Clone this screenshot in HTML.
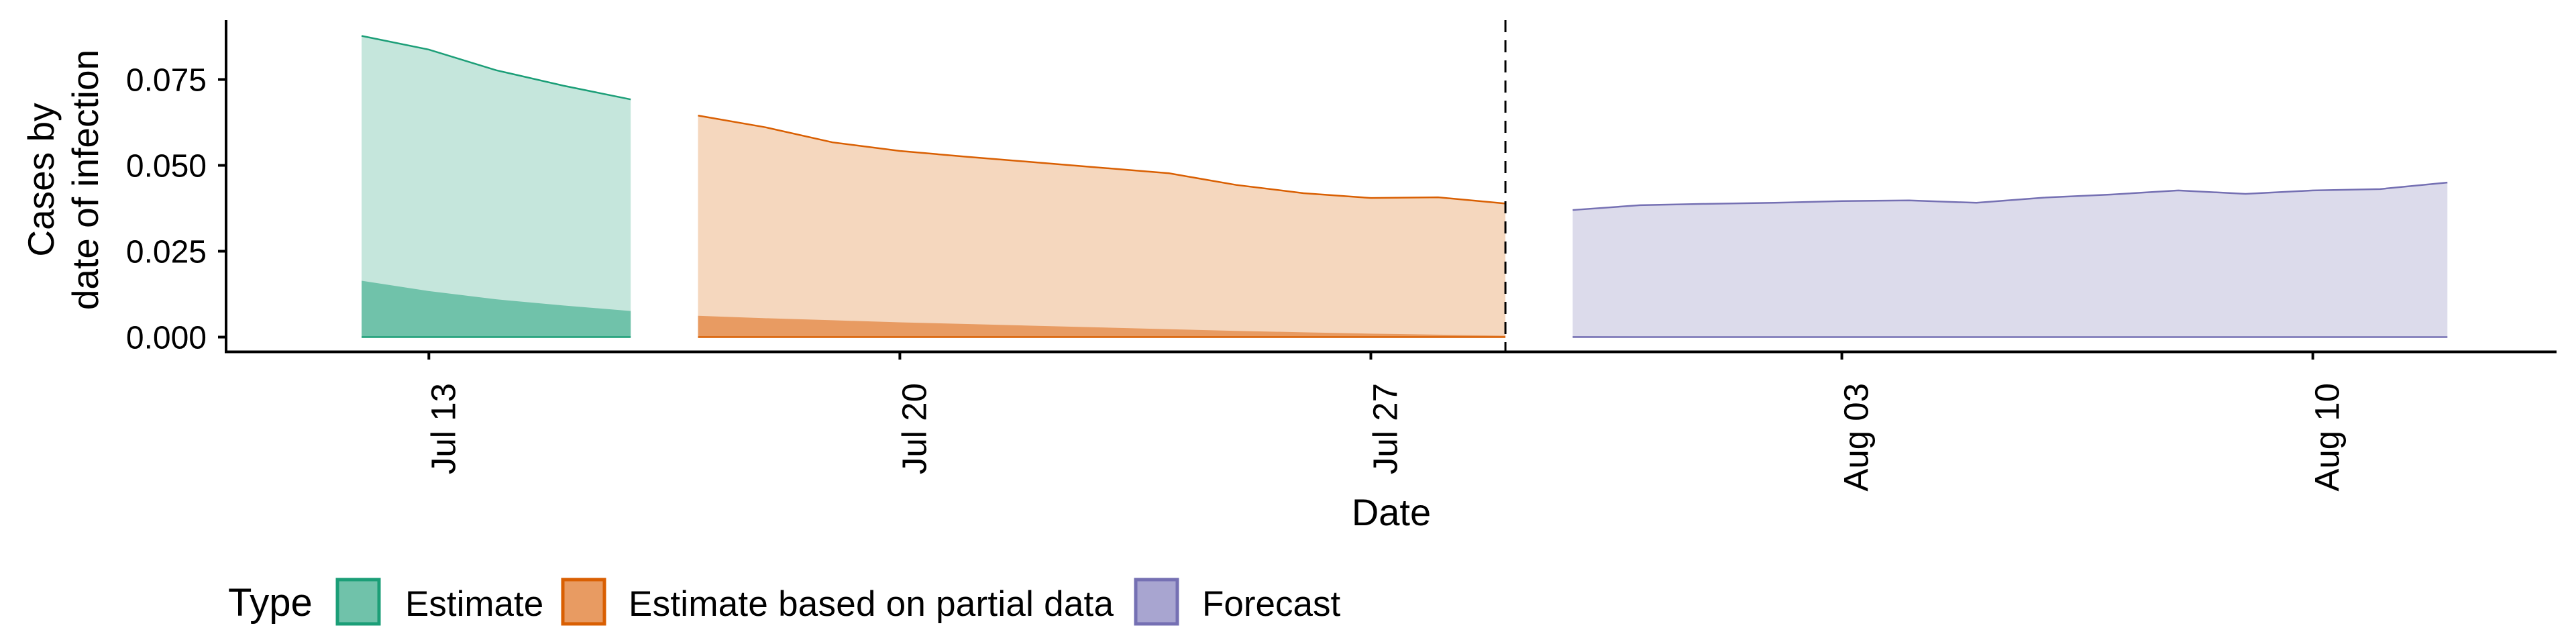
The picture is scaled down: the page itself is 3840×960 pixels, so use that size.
<!DOCTYPE html>
<html><head><meta charset="utf-8"><style>
html,body{margin:0;padding:0;background:#fff;}
svg{display:block;font-family:"Liberation Sans",Arial,sans-serif;}
</style></head><body>
<svg id="chart" width="3840" height="960" viewBox="0 0 3840 960" xmlns="http://www.w3.org/2000/svg">
<g id="plot"></g>
<g id="axes"></g>
<g id="legend"></g>
</svg>
<script>
// Data (day index 0 = Jul 12)
const estDays = [0,1,2,3,4];
const estUpper = [0.0877,0.0837,0.0777,0.0732,0.0692];
const estLower = [0.0164,0.0134,0.0110,0.0092,0.0076];
const partDays = [5,6,7,8,9,10,11,12,13,14,15,16,17];
const partUpper = [0.0645,0.0611,0.0567,0.0542,0.0525,0.0509,0.0493,0.0477,0.0443,0.0419,0.0405,0.0407,0.0389];
const partLower = [0.0062,0.0055,0.0049,0.0043,0.0038,0.0033,0.0028,0.0023,0.0018,0.0014,0.0010,0.0007,0.0004];
const foreDays = [18,19,20,21,22,23,24,25,26,27,28,29,30,31];
const foreUpper = [0.0370,0.0384,0.0388,0.0391,0.0396,0.0398,0.0391,0.0406,0.0415,0.0427,0.0417,0.0427,0.0431,0.0450];
const foreLower = [0.0003,0.0002,0.0002,0.0002,0.0001,0.0001,0.0001,0.0001,0.0001,0.0001,0.0001,0.0001,0.0001,0.0001];
const yTicks = [0,0.025,0.05,0.075];
const yTickLabels = ["0.000","0.025","0.050","0.075"];
const xTicks = [1,8,15,22,29];
const xTickLabels = ["Jul 13","Jul 20","Jul 27","Aug 03","Aug 10"];
const nowDay = 17;

const NS = "http://www.w3.org/2000/svg";
const X = d => 539 + d * 100.3;
const Y = v => 502.5 - v * 5120;
function mk(tag, attrs, parent){const e=document.createElementNS(NS,tag);for(const k in attrs)e.setAttribute(k,attrs[k]);parent.appendChild(e);return e;}
const plot = document.getElementById('plot');
const axes = document.getElementById('axes');
const legend = document.getElementById('legend');

function band(days, vals, fill, name){
  let d = "M"+X(days[0])+","+Y(0);
  days.forEach((dd,i)=>{d+=" L"+X(dd)+","+Y(vals[i]);});
  d += " L"+X(days[days.length-1])+","+Y(0)+" Z";
  const p = mk('path',{d:d,fill:fill},plot);
  
  
}
function line(days, vals, stroke, name){
  const pts = days.map((dd,i)=>X(dd)+","+Y(vals[i])).join(" ");
  const p = mk('polyline',{points:pts,fill:"none",stroke:stroke,"stroke-width":2.5},plot);
  
  
}
band(estDays, estUpper, "#c5e6dc", "estimate-outer-band");
band(estDays, estLower, "#70c2aa", "estimate-inner-band");
line(estDays, estUpper, "#1b9e77", "estimate-upper-line");
line(estDays, estDays.map(()=>0), "#1b9e77", "estimate-baseline");
band(partDays, partUpper, "#f5d7be", "partial-outer-band");
band(partDays, partLower, "#e89b62", "partial-inner-band");
line(partDays, partUpper, "#d95f02", "partial-upper-line");
line(partDays, partDays.map(()=>0), "#d95f02", "partial-baseline");
band(foreDays, foreUpper, "#dcdbeb", "forecast-outer-band");
band(foreDays, foreLower, "#a8a5d0", "forecast-inner-band");
line(foreDays, foreUpper, "#7570b3", "forecast-upper-line");
line(foreDays, foreDays.map(()=>0), "#7570b3", "forecast-baseline");

const dl = mk('line',{x1:X(nowDay),x2:X(nowDay),y1:30,y2:524,stroke:"#000","stroke-width":3,"stroke-dasharray":"18,12"},plot);



// axes
const ya = mk('line',{x1:337,x2:337,y1:30,y2:526,stroke:"#000","stroke-width":4},axes);


const xa = mk('line',{x1:335,x2:3811,y1:524.5,y2:524.5,stroke:"#000","stroke-width":4},axes);


yTicks.forEach((v,i)=>{
  const t = mk('line',{x1:325,x2:337,y1:Y(v),y2:Y(v),stroke:"#000","stroke-width":4},axes);
  
  
  const l = mk('text',{x:308,y:Y(v)+17,"text-anchor":"end","font-size":48,fill:"#000"},axes);
  
  
  l.textContent = yTickLabels[i];
});
xTicks.forEach((d,i)=>{
  const t = mk('line',{x1:X(d),x2:X(d),y1:524,y2:536,stroke:"#000","stroke-width":4},axes);
  
  
  const l = mk('text',{transform:"translate("+(X(d)+39)+",571) rotate(-90)","text-anchor":"end","font-size":51,fill:"#000"},axes);
  
  
  l.textContent = xTickLabels[i];
});
const xt = mk('text',{x:2074,y:783,"text-anchor":"middle","font-size":56,fill:"#000"},axes);


xt.textContent = "Date";
const yt = mk('text',{transform:"translate(0,268) rotate(-90)","text-anchor":"middle","font-size":55,fill:"#000"},axes);


const t1 = mk('tspan',{x:0,y:80},yt); t1.textContent="Cases by";
const t2 = mk('tspan',{x:0,y:146},yt); t2.textContent="date of infection";

// legend
const lt = mk('text',{x:340,y:918,"font-size":58,fill:"#000"},legend);


lt.textContent = "Type";
const legItems = [
  {x:503,fill:"#70c2aa",stroke:"#1b9e77",tx:604,label:"Estimate",w:0},
  {x:839,fill:"#e89b62",stroke:"#d95f02",tx:937,label:"Estimate based on partial data",w:723},
  {x:1693,fill:"#a8a5d0",stroke:"#7570b3",tx:1792,label:"Forecast",w:0}
];
legItems.forEach(it=>{
  const g = mk('g',{},legend);
  
  
  const r = mk('rect',{x:it.x,y:864,width:62,height:66,fill:it.fill,stroke:it.stroke,"stroke-width":5},g);
  
  
  const attrs = {x:it.tx,y:918,"font-size":53,fill:"#000"};
  if(it.w) attrs.textLength = it.w;
  const t = mk('text',attrs,g);
  
  
  t.textContent = it.label;
});
</script>
</body></html>
